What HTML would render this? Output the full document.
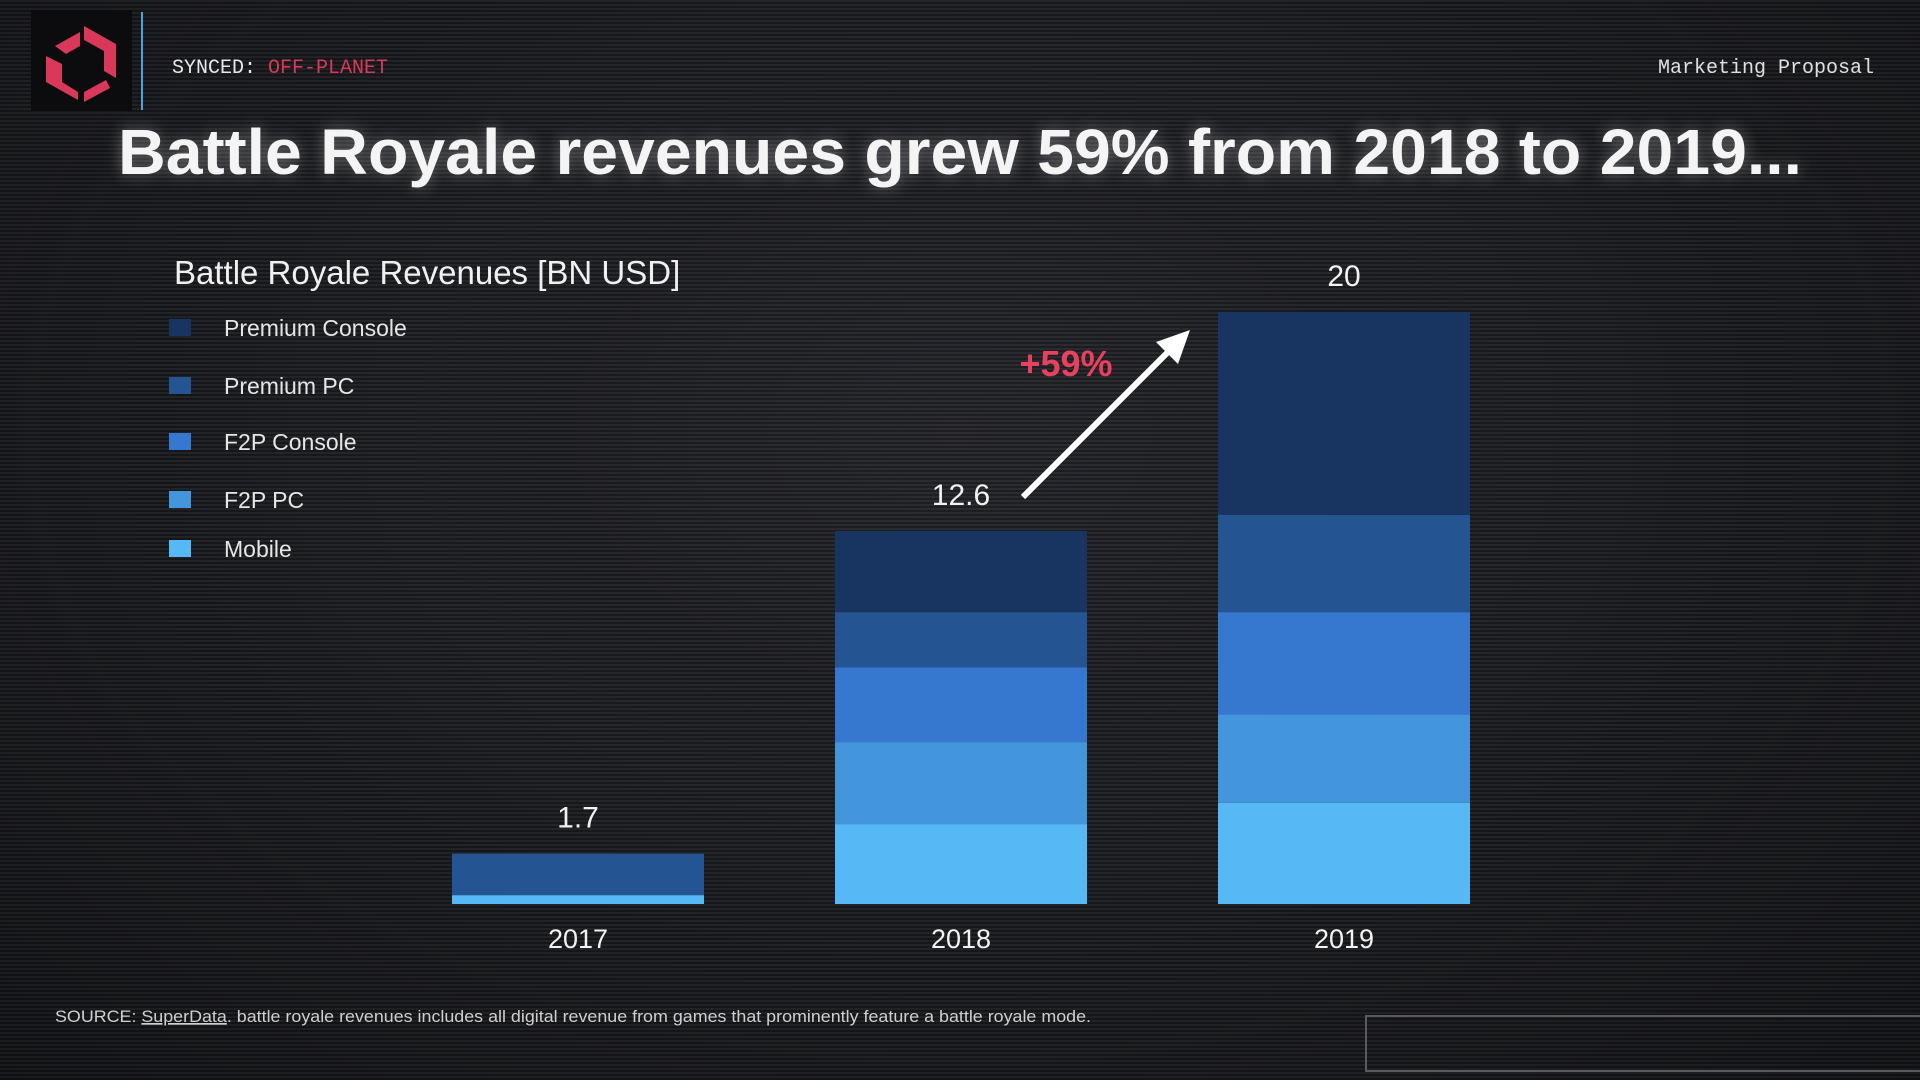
<!DOCTYPE html>
<html><head><meta charset="utf-8">
<style>
html,body{margin:0;padding:0;width:1920px;height:1080px;overflow:hidden;background:#1b1c20;}
#bg{position:absolute;left:0;top:0;width:1920px;height:1080px;
background:repeating-linear-gradient(to bottom,rgba(255,255,255,0.035) 0 2px,rgba(0,0,0,0.18) 2px 4px),radial-gradient(ellipse at 50% 40%,#24252a 0%,#1a1b1e 60%,#121316 100%);}
svg{position:absolute;left:0;top:0;}
</style></head>
<body>
<div id="bg"></div>
<svg width="1920" height="1080" id="chart">
  <g>
    <rect x="31" y="10" width="101" height="101" fill="#0c0c0e"/>
    <polygon points="55,46 80,32 80,46 66,54" fill="#d9385a"/>
    <polygon points="84,26 116,44 116,78 104,71 104,51 84,40" fill="#d9385a"/>
    <polygon points="46,56 62,64 62,82 78,92 78,100 46,82" fill="#d9385a"/>
    <polygon points="84,92 106,80 110,88 84,102" fill="#d9385a"/>
  </g>
  <rect x="141" y="12" width="2" height="98" fill="#4aa6d8"/>
  <text x="172" y="73" font-family="Liberation Mono, monospace" font-size="20" fill="#e8e8e8">SYNCED: <tspan fill="#d9385a">OFF-PLANET</tspan></text>
  <text x="1874" y="73" text-anchor="end" font-family="Liberation Mono, monospace" font-size="20" fill="#e0e0e0">Marketing Proposal</text>
  <text x="960" y="174" text-anchor="middle" font-family="Liberation Sans, sans-serif" font-weight="bold" font-size="64" fill="#f4f4f4" textLength="1684" lengthAdjust="spacingAndGlyphs" style="filter:drop-shadow(0 0 8px rgba(255,255,255,0.35))">Battle Royale revenues grew 59% from 2018 to 2019...</text>
  <text x="174" y="284" font-family="Liberation Sans, sans-serif" font-size="33" fill="#f0f0f0">Battle Royale Revenues [BN USD]</text>
  <g id="legend"></g>
  <g id="bars"></g>
  <g>
    <line x1="1023" y1="497" x2="1175" y2="345" stroke="#fff" stroke-width="6"/>
    <polygon points="1190,330 1178,364 1156,342" fill="#fff"/>
  </g>
  <text x="1066" y="376" text-anchor="middle" font-family="Liberation Sans, sans-serif" font-weight="bold" font-size="36" fill="#e8405f">+59%</text>
  <text x="55" y="1022" font-family="Liberation Sans, sans-serif" font-size="17" fill="#cfcfcf" textLength="1036" lengthAdjust="spacingAndGlyphs">SOURCE: <tspan text-decoration="underline">SuperData</tspan>. battle royale revenues includes all digital revenue from games that prominently feature a battle royale mode.</text>
  <rect x="1366" y="1016" width="560" height="55" fill="none" stroke="#5a5a5e" stroke-width="2"/>
</svg>
<script>
const categories = ["2017","2018","2019"];
const seriesNames = ["Premium Console","Premium PC","F2P Console","F2P PC","Mobile"];
const premiumConsole = [0, 2.74, 6.85];
const premiumPC = [1.4, 1.86, 3.29];
const f2pConsole = [0, 2.53, 3.46];
const f2pPC = [0, 2.77, 2.98];
const mobile = [0.3, 2.7, 3.42];
const totalLabels = ["1.7","12.6","20"];
const colors = ["#173560","#245592","#3677d0","#4496dc","#56b8f5"];
const NS = "http://www.w3.org/2000/svg";
const baseY = 904, pxPerUnit = 29.6, barW = 252, firstX = 452, step = 383;
function yScale(v){ return baseY - v*pxPerUnit; }
function xScale(i){ return firstX + i*step; }
const series = [premiumConsole, premiumPC, f2pConsole, f2pPC, mobile];
const bars = document.getElementById('bars');
categories.forEach((cat,i)=>{
  let cum = 0;
  for (let s = series.length-1; s >= 0; s--) {
    const v = series[s][i];
    if (v <= 0) continue;
    const r = document.createElementNS(NS,'rect');
    r.setAttribute('x', xScale(i));
    r.setAttribute('y', yScale(cum+v));
    r.setAttribute('width', barW);
    r.setAttribute('height', v*pxPerUnit);
    r.setAttribute('fill', colors[s]);
    
    
    bars.appendChild(r);
    cum += v;
  }
  const t = document.createElementNS(NS,'text');
  t.setAttribute('x', xScale(i)+barW/2);
  t.setAttribute('y', yScale(cum)-26);
  t.setAttribute('text-anchor','middle');
  t.setAttribute('font-family','Liberation Sans, sans-serif');
  t.setAttribute('font-size','30');
  t.setAttribute('fill','#f2f2f2');
  t.textContent = totalLabels[i];
  
  
  bars.appendChild(t);
  const c = document.createElementNS(NS,'text');
  c.setAttribute('x', xScale(i)+barW/2);
  c.setAttribute('y', 948);
  c.setAttribute('text-anchor','middle');
  c.setAttribute('font-family','Liberation Sans, sans-serif');
  c.setAttribute('font-size','27');
  c.setAttribute('fill','#f2f2f2');
  c.textContent = cat;
  
  
  bars.appendChild(c);
});
const legendY = [328,386,442,500,549];
const legend = document.getElementById('legend');
seriesNames.forEach((n,i)=>{
  const r = document.createElementNS(NS,'rect');
  r.setAttribute('x',169); r.setAttribute('y',legendY[i]-9);
  r.setAttribute('width',22); r.setAttribute('height',17);
  r.setAttribute('fill',colors[i]);
  
  
  legend.appendChild(r);
  const t = document.createElementNS(NS,'text');
  t.setAttribute('x',224); t.setAttribute('y',legendY[i]+8);
  t.setAttribute('font-family','Liberation Sans, sans-serif');
  t.setAttribute('font-size','23');
  t.setAttribute('fill','#e6e6e6');
  t.textContent = n;
  
  
  legend.appendChild(t);
});
</script>
</body></html>
